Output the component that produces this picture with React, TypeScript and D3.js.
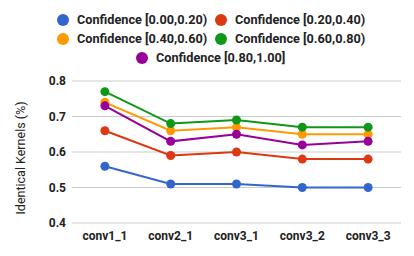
import React, { useRef, useEffect } from 'react';
import * as d3 from 'd3';

const layers = ['conv1_1', 'conv2_1', 'conv3_1', 'conv3_2', 'conv3_3'];
const seriesNames = [
  'Confidence [0.00,0.20)',
  'Confidence [0.20,0.40)',
  'Confidence [0.40,0.60)',
  'Confidence [0.60,0.80)',
  'Confidence [0.80,1.00]',
];
const conf0 = [0.56, 0.51, 0.51, 0.5, 0.5];
const conf1 = [0.66, 0.59, 0.6, 0.58, 0.58];
const conf2 = [0.74, 0.66, 0.67, 0.65, 0.65];
const conf3 = [0.77, 0.68, 0.69, 0.67, 0.67];
const conf4 = [0.73, 0.63, 0.65, 0.62, 0.63];
const colors = ['#3366cc', '#dc3912', '#ff9900', '#109618', '#990099'];
const yTicks = [0.4, 0.5, 0.6, 0.7, 0.8];

const App = () => {
  const svgRef = useRef<SVGSVGElement>(null);
  const width = 414;
  const height = 256;
  const margin = { top: 81, right: 13, bottom: 33, left: 72 };

  useEffect(() => {
    const svg = d3.select(svgRef.current);
    svg.selectAll('*').remove();
    const font = 'Roboto, Arial, sans-serif';
    const allSeries = [conf0, conf1, conf2, conf3, conf4];

    const x = d3.scalePoint<string>()
      .domain(layers)
      .range([margin.left, width - margin.right])
      .padding(0.5);
    const y = d3.scaleLinear()
      .domain([0.4, 0.8])
      .range([height - margin.bottom, margin.top]);

    // grid + y labels
    const grid = svg.append('g');
    grid.selectAll('line')
      .data(yTicks)
      .join('line')
      .attr('x1', margin.left)
      .attr('x2', width - margin.right)
      .attr('y1', d => y(d))
      .attr('y2', d => y(d))
      .attr('stroke', '#cccccc')
      .attr('stroke-width', 1);
    grid.selectAll('text')
      .data(yTicks)
      .join('text')
      .attr('x', 66)
      .attr('y', d => y(d))
      .attr('dy', '0.35em')
      .attr('text-anchor', 'end')
      .attr('font-family', font)
      .attr('font-weight', 'bold')
      .attr('font-size', 12)
      .attr('fill', '#222')
      .text(d => d.toFixed(1));

    // x labels
    svg.append('g').selectAll('text')
      .data(layers)
      .join('text')
      .attr('x', d => x(d)!)
      .attr('y', 236)
      .attr('dy', '0.35em')
      .attr('text-anchor', 'middle')
      .attr('font-family', font)
      .attr('font-weight', 'bold')
      .attr('font-size', 12)
      .attr('fill', '#222')
      .text(d => d);

    // axis title
    svg.append('text')
      .attr('transform', `translate(21,${(margin.top + height - margin.bottom) / 2 + 6}) rotate(-90)`)
      .attr('text-anchor', 'middle')
      .attr('dy', '0.35em')
      .attr('font-family', font)
      .attr('font-size', 12.5)
      .attr('fill', '#222')
      .text('Identical Kernels (%)');

    const line = d3.line<number>()
      .x((_, i) => x(layers[i])!)
      .y(d => y(d));

    allSeries.forEach((vals, si) => {
      const g = svg.append('g');
      g.append('path')
        .datum(vals)
        .attr('d', line)
        .attr('fill', 'none')
        .attr('stroke', colors[si])
        .attr('stroke-width', 2);
      g.selectAll('circle')
        .data(vals)
        .join('circle')
        .attr('cx', (_, i) => x(layers[i])!)
        .attr('cy', d => y(d))
        .attr('r', 4.5)
        .attr('fill', colors[si]);
    });

    // legend
    const legendPos = [
      [63, 20], [221, 20], [63, 39], [221, 39], [142, 58],
    ];
    const legend = svg.append('g');
    seriesNames.forEach((name, i) => {
      const [lx, ly] = legendPos[i];
      legend.append('circle')
        .attr('cx', lx)
        .attr('cy', ly)
        .attr('r', 6)
        .attr('fill', colors[i]);
      legend.append('text')
        .attr('x', lx + 14)
        .attr('y', ly)
        .attr('dy', '0.35em')
        .attr('font-family', font)
        .attr('font-weight', 'bold')
        .attr('font-size', 12.7)
        .attr('fill', '#222')
        .text(name);
    });
  }, []);

  return (
    <svg
      ref={svgRef}
      width={width}
      height={height}
      style={{ position: 'absolute', left: 0, top: 0, background: '#fff' }}
    />
  );
};

export default App;
